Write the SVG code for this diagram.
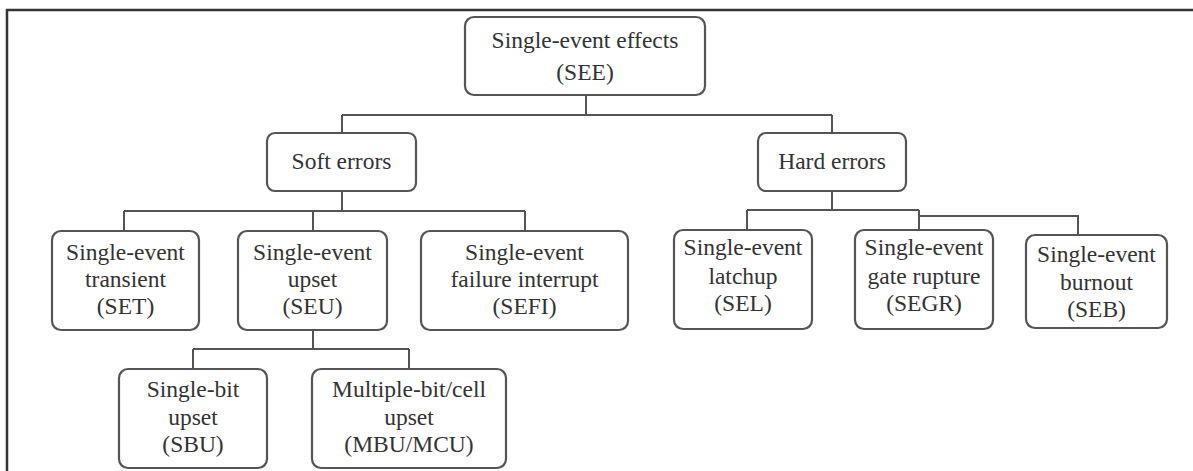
<svg xmlns="http://www.w3.org/2000/svg" width="1193" height="471" viewBox="0 0 1193 471">
<style>
.box{fill:#fff;stroke:#555;stroke-width:2.2}
.t{font-family:"Liberation Serif","DejaVu Serif",serif;font-size:23.5px;fill:#333;text-anchor:middle}
.c{fill:none;stroke:#555;stroke-width:2}
</style>
<rect width="1193" height="471" fill="#fff"/>
<path d="M7,471 V10 H1193" fill="none" stroke="#333" stroke-width="2.5"/>
<g id="connectors">
<path class="c" d="M586,95 V115 M342,115 H832 M342,115 V133 M832,115 V133"/>
<path class="c" d="M342,191 V211 M124,211 H525 M124,211 V231 M313,211 V231 M525,211 V231"/>
<path class="c" d="M313,330 V349 M193,349 H409 M193,349 V369 M409,349 V369"/>
<path class="c" d="M832,191 V210 M747,210 H919 M747,210 V230 M919,210 V230 M919,216 H1078 V235"/>
</g>
<g id="see"><rect class="box" x="465" y="17" width="240" height="78" rx="9"/>
<text class="t" x="585" y="48">Single-event effects</text><text class="t" x="585" y="80">(SEE)</text></g>
<g id="soft"><rect class="box" x="267" y="133" width="149" height="58" rx="8"/>
<text class="t" x="341.5" y="169">Soft errors</text></g>
<g id="hard"><rect class="box" x="758" y="133" width="148" height="58" rx="8"/>
<text class="t" x="832" y="169">Hard errors</text></g>
<g id="set"><rect class="box" x="52" y="231" width="147" height="99" rx="9"/>
<text class="t" x="125.5" y="260">Single-event</text><text class="t" x="125.5" y="287">transient</text><text class="t" x="125.5" y="314">(SET)</text></g>
<g id="seu"><rect class="box" x="238" y="231" width="149" height="99" rx="9"/>
<text class="t" x="312.5" y="260">Single-event</text><text class="t" x="312.5" y="287">upset</text><text class="t" x="312.5" y="314">(SEU)</text></g>
<g id="sefi"><rect class="box" x="421" y="231" width="207" height="99" rx="9"/>
<text class="t" x="524.5" y="260">Single-event</text><text class="t" x="524.5" y="287">failure interrupt</text><text class="t" x="524.5" y="314">(SEFI)</text></g>
<g id="sel"><rect class="box" x="674" y="230" width="138" height="99" rx="9"/>
<text class="t" x="743" y="255">Single-event</text><text class="t" x="743" y="284">latchup</text><text class="t" x="743" y="311">(SEL)</text></g>
<g id="segr"><rect class="box" x="855" y="230" width="138" height="99" rx="9"/>
<text class="t" x="924" y="255">Single-event</text><text class="t" x="924" y="284">gate rupture</text><text class="t" x="924" y="311">(SEGR)</text></g>
<g id="seb"><rect class="box" x="1026" y="235" width="141" height="93" rx="9"/>
<text class="t" x="1096.5" y="262">Single-event</text><text class="t" x="1096.5" y="290">burnout</text><text class="t" x="1096.5" y="317">(SEB)</text></g>
<g id="sbu"><rect class="box" x="119" y="369" width="148" height="99" rx="9"/>
<text class="t" x="193" y="397">Single-bit</text><text class="t" x="193" y="425">upset</text><text class="t" x="193" y="452">(SBU)</text></g>
<g id="mbu"><rect class="box" x="312" y="369" width="194" height="99" rx="9"/>
<text class="t" x="409" y="397">Multiple-bit/cell</text><text class="t" x="409" y="425">upset</text><text class="t" x="409" y="452">(MBU/MCU)</text></g>
</svg>
